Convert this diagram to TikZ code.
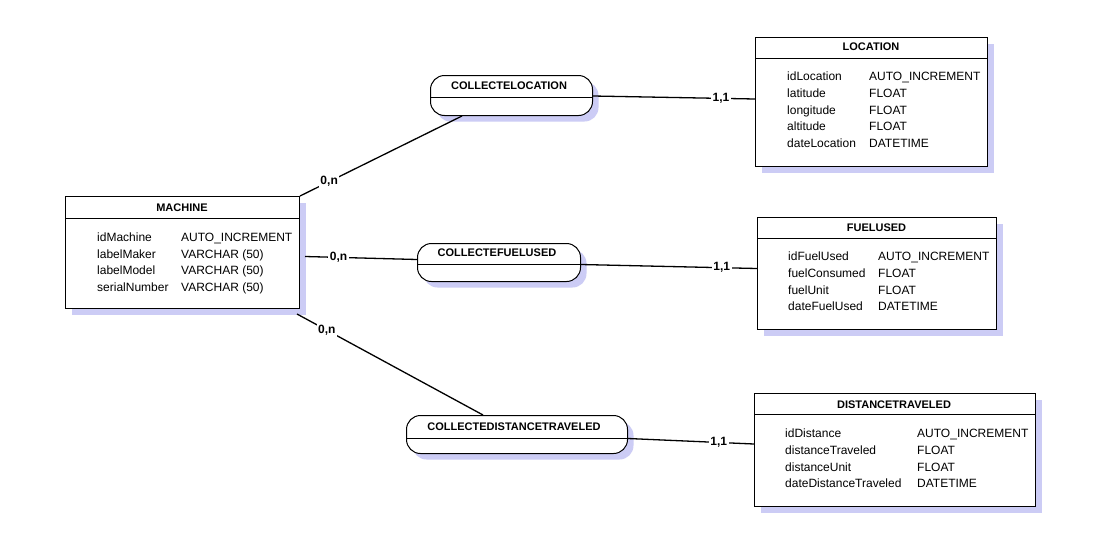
\documentclass[tikz,border=0pt]{standalone}
\usepackage{fontspec}
\setmainfont{Liberation Sans}
\usetikzlibrary{shadows}
\definecolor{shadowc}{RGB}{204,204,245}
\tikzset{
  shd/.style={drop shadow={shadow xshift=6pt, shadow yshift=-6pt, fill=shadowc, opacity=1}},
  entbox/.style={draw=black, line width=1pt, fill=white, shd, anchor=north west, inner sep=0pt},
  relbox/.style={draw=black, line width=1pt, fill=white, shd, anchor=north west, inner sep=0pt, rounded corners=14pt},
  divline/.style={draw=black, line width=1pt},
  ttl/.style={font=\bfseries\fontsize{11}{13}\selectfont, anchor=base, inner sep=0pt},
  row/.style={font=\fontsize{12}{14}\selectfont, anchor=base west, inner sep=0pt},
  conn/.style={draw=black, line width=1.3pt},
  lbl/.style={font=\bfseries\fontsize{12}{14}\selectfont, fill=white, inner sep=1.5pt}
}
\begin{document}
\begin{tikzpicture}[x=1pt,y=-1pt]
\useasboundingbox (0,0) rectangle (1094,549);
\fill[white] (0,0) rectangle (1094,549);

% ---------- MACHINE ----------
\node[entbox, minimum width=234pt, minimum height=112pt] (machine) at (65,196) {};
\draw[divline] ([yshift=-22pt]machine.north west) -- ([yshift=-22pt]machine.north east);
\node[ttl] (machinet) at (182,211) {MACHINE};
\node[row] (m1a) at (97,241.5) {idMachine};
\node[row] (m1b) at (181,241.5) {AUTO\_INCREMENT};
\node[row] (m2a) at (97,258.2) {labelMaker};
\node[row] (m2b) at (181,258.2) {VARCHAR (50)};
\node[row] (m3a) at (97,274.9) {labelModel};
\node[row] (m3b) at (181,274.9) {VARCHAR (50)};
\node[row] (m4a) at (97,291.6) {serialNumber};
\node[row] (m4b) at (181,291.6) {VARCHAR (50)};

% ---------- LOCATION ----------
\node[entbox, minimum width=232pt, minimum height=129pt] (loc) at (755,37) {};
\draw[divline] ([yshift=-21pt]loc.north west) -- ([yshift=-21pt]loc.north east);
\node[ttl] (loct) at (871,50) {LOCATION};
\node[row] (l1a) at (787,80.5) {idLocation};
\node[row] (l1b) at (869,80.5) {AUTO\_INCREMENT};
\node[row] (l2a) at (787,97.3) {latitude};
\node[row] (l2b) at (869,97.3) {FLOAT};
\node[row] (l3a) at (787,114.1) {longitude};
\node[row] (l3b) at (869,114.1) {FLOAT};
\node[row] (l4a) at (787,130.9) {altitude};
\node[row] (l4b) at (869,130.9) {FLOAT};
\node[row] (l5a) at (787,147.7) {dateLocation};
\node[row] (l5b) at (869,147.7) {DATETIME};

% ---------- FUELUSED ----------
\node[entbox, minimum width=239pt, minimum height=112pt] (fuel) at (757,217) {};
\draw[divline] ([yshift=-21pt]fuel.north west) -- ([yshift=-21pt]fuel.north east);
\node[ttl] (fuelt) at (876.5,231) {FUELUSED};
\node[row] (f1a) at (788,260.5) {idFuelUsed};
\node[row] (f1b) at (878,260.5) {AUTO\_INCREMENT};
\node[row] (f2a) at (788,277.3) {fuelConsumed};
\node[row] (f2b) at (878,277.3) {FLOAT};
\node[row] (f3a) at (788,294.1) {fuelUnit};
\node[row] (f3b) at (878,294.1) {FLOAT};
\node[row] (f4a) at (788,310.9) {dateFuelUsed};
\node[row] (f4b) at (878,310.9) {DATETIME};

% ---------- DISTANCETRAVELED ----------
\node[entbox, minimum width=281pt, minimum height=113pt] (dist) at (754,393) {};
\draw[divline] ([yshift=-21pt]dist.north west) -- ([yshift=-21pt]dist.north east);
\node[ttl] (distt) at (894,408) {DISTANCETRAVELED};
\node[row] (d1a) at (785,437.5) {idDistance};
\node[row] (d1b) at (917,437.5) {AUTO\_INCREMENT};
\node[row] (d2a) at (785,454.3) {distanceTraveled};
\node[row] (d2b) at (917,454.3) {FLOAT};
\node[row] (d3a) at (785,471.1) {distanceUnit};
\node[row] (d3b) at (917,471.1) {FLOAT};
\node[row] (d4a) at (785,487.9) {dateDistanceTraveled};
\node[row] (d4b) at (917,487.9) {DATETIME};

% ---------- Relations ----------
\node[relbox, minimum width=162pt, minimum height=40pt] (cl) at (430,75) {};
\draw[divline] ([yshift=-22pt]cl.north west) -- ([yshift=-22pt]cl.north east);
\node[ttl] (clt) at (509,89) {COLLECTELOCATION};

\node[relbox, minimum width=163pt, minimum height=38pt] (cf) at (417,243) {};
\draw[divline] ([yshift=-21pt]cf.north west) -- ([yshift=-21pt]cf.north east);
\node[ttl] (cft) at (497,256) {COLLECTEFUELUSED};

\node[relbox, minimum width=221pt, minimum height=38pt] (cd) at (406,415) {};
\draw[divline] ([yshift=-23pt]cd.north west) -- ([yshift=-23pt]cd.north east);
\node[ttl] (cdt) at (514,430) {COLLECTEDISTANCETRAVELED};

% ---------- Connectors ----------
\draw[conn] (machine.north east) -- node[lbl, pos=0.18] (lab1) {0,n} ([xshift=32pt]cl.south west);
\draw[conn] ([yshift=-21pt]cl.north east) -- node[lbl, pos=0.79] (lab2) {1,1} ([yshift=-62pt]loc.north west);
\draw[conn] ([shift={(5pt,-4pt)}]machine.east) -- node[lbl, pos=0.30] (lab3) {0,n} ([yshift=3pt]cf.west);
\draw[conn] ([yshift=-2pt]cf.east) -- node[lbl, pos=0.80] (lab4) {1,1} ([yshift=5pt]fuel.west);
\draw[conn] ([shift={(-3pt,-5pt)}]machine.south east) -- node[lbl, pos=0.16] (lab5) {0,n} ([xshift=77pt]cd.north west);
\draw[conn] ([yshift=-4pt]cd.east) -- node[lbl, pos=0.72] (lab6) {1,1} ([yshift=6pt]dist.west);
\end{tikzpicture}
\end{document}
